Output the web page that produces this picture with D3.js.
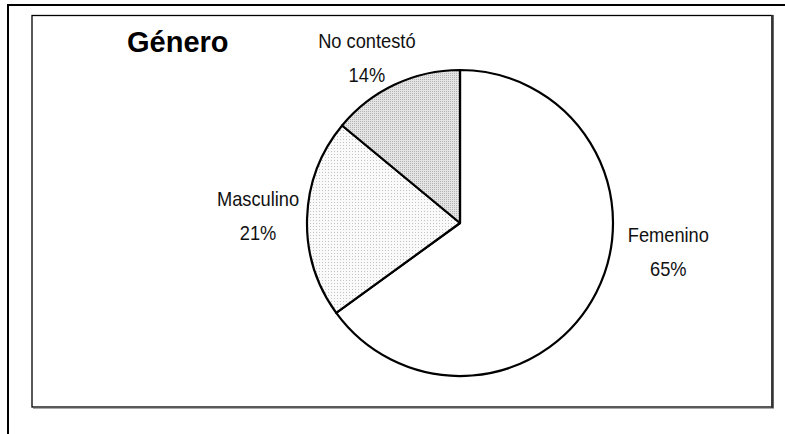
<!DOCTYPE html>
<html><head><meta charset="utf-8">
<script src="https://cdn.jsdelivr.net/npm/d3@7"></script>
<style>
html,body{margin:0;padding:0;background:#fff;}
svg{display:block;}
.lbl{font-family:"Liberation Sans",Arial,sans-serif;font-size:21px;fill:#111;}
.title{font-family:"Liberation Sans",Arial,Helvetica,sans-serif;font-weight:bold;font-size:29px;fill:#000;}
</style></head>
<body>
<script>
const categories = ["Femenino", "Masculino", "No contestó"];
const values = [65, 21, 14];
const percentLabels = ["65%", "21%", "14%"];
const title = "Género";

const W = 785, H = 434;
const svg = d3.select("body").append("svg").attr("width", W).attr("height", H);

// patterns
const defs = svg.append("defs");
const p1 = defs.append("pattern").attr("id","dotsLight").attr("width",3).attr("height",3).attr("patternUnits","userSpaceOnUse");
p1.append("rect").attr("width",3).attr("height",3).attr("fill","#fafafa");
p1.append("rect").attr("width",1).attr("height",1).attr("fill","#c4c4c4");
const p2 = defs.append("pattern").attr("id","dotsDark").attr("width",2).attr("height",2).attr("patternUnits","userSpaceOnUse");
p2.append("rect").attr("width",2).attr("height",2).attr("fill","#e4e4e4");
p2.append("rect").attr("width",1).attr("height",1).attr("fill","#b4b4b4");
const fills = ["#ffffff", "url(#dotsLight)", "url(#dotsDark)"];

// outer frame lines
svg.append("line").attr("x1",7).attr("y1",5).attr("x2",W).attr("y2",5).attr("stroke","#000").attr("stroke-width",2);
svg.append("line").attr("x1",8).attr("y1",4).attr("x2",8).attr("y2",H).attr("stroke","#000").attr("stroke-width",2);

// inner chart box with shadow
svg.append("line").attr("x1",33).attr("y1",408.5).attr("x2",774).attr("y2",408.5).attr("stroke","#aaa").attr("stroke-width",1);
svg.append("rect").attr("x",32).attr("y",15.5).attr("width",740).attr("height",391.5)
  .attr("fill","#fff").attr("stroke","#000").attr("stroke-width",1.3);
svg.append("line").attr("x1",772.5).attr("y1",15).attr("x2",772.5).attr("y2",408).attr("stroke","#333").attr("stroke-width",2.5);

// pie
const cx = 460, cy = 223, R = 153;
const pie = d3.pie().sort(null).value(d => d.v).startAngle(0).endAngle(2*Math.PI);
const data = categories.map((c,i) => ({c, v: values[i], p: percentLabels[i], f: fills[i]}));
const arcs = pie(data);
const arc = d3.arc().innerRadius(0).outerRadius(R);
const g = svg.append("g").attr("transform", `translate(${cx},${cy})`);
g.selectAll("path").data(arcs).join("path")
  .attr("d", arc).attr("fill", d => d.data.f)
  .attr("stroke","#000").attr("stroke-width",2.2).attr("stroke-linejoin","round");

// labels: placed relative to arc mid-angle anchor
const labelOffsets = {
  "Femenino": [72, -50],
  "Masculino": [-49, -12],
  "No contestó": [-28, -37]
};
arcs.forEach(a => {
  const mid = (a.startAngle + a.endAngle)/2;
  const ax = cx + R*Math.sin(mid), ay = cy - R*Math.cos(mid);
  const off = labelOffsets[a.data.c];
  const lg = svg.append("g").attr("transform", `translate(${ax + off[0]},${ay + off[1]}) scale(0.87,1)`);
  lg.append("text").attr("class","lbl").attr("x",0).attr("y",0).attr("text-anchor","middle").text(a.data.c);
  lg.append("text").attr("class","lbl").attr("x",0).attr("y",34).attr("text-anchor","middle").text(a.data.p);
});

svg.append("text").attr("class","title").attr("x",127).attr("y",52).text(title);
</script>
</body></html>
